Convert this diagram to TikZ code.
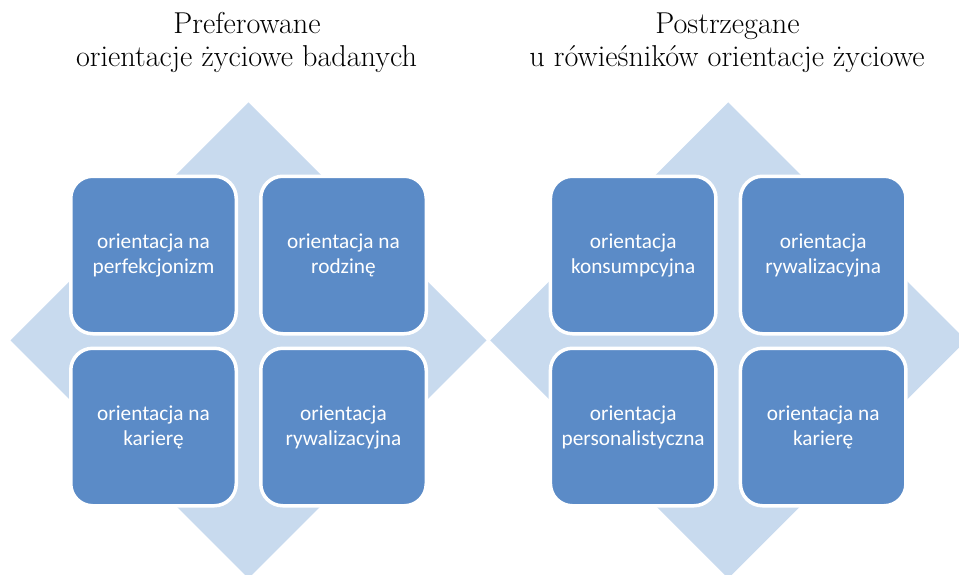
\documentclass[tikz,border=0pt]{standalone}
\usepackage{fontspec}
\newfontfamily\boxfont{Carlito}
\definecolor{boxblue}{RGB}{91,139,199}
\definecolor{diamblue}{RGB}{200,218,238}
\tikzset{
  cell/.style={fill=boxblue, draw=white, line width=3.5pt, rounded corners=22pt,
    minimum width=165.5pt, minimum height=157.5pt, inner sep=0pt, text=white,
    align=center, font=\boxfont\fontsize{21.3}{25}\selectfont},
  diam/.style={fill=diamblue},
  title/.style={anchor=base, inner sep=0pt, font=\fontsize{30.2}{33}\selectfont}
}
\begin{document}
\begin{tikzpicture}[x=1pt,y=-1pt]
\useasboundingbox (0,0) rectangle (959,574);
\clip (0,0) rectangle (959,574);
\coordinate (L) at (248.5,340.3);
\coordinate (R) at (728.2,340.3);
\fill[diam] (L) ++(0,-238) -- ++(238,238) -- ++(-238,238) -- ++(-238,-238) -- cycle;
\fill[diam] (R) ++(0,-238) -- ++(238,238) -- ++(-238,238) -- ++(-238,-238) -- cycle;

\node[title] (t1a) at (247,33.7) {Preferowane};
\node[title] (t1b) at (246.5,66.7) {orientacje życiowe badanych};
\node[title] (t2a) at (727.5,33.7) {Postrzegane};
\node[title] (t2b) at (727,66.7) {u rówieśników orientacje życiowe};

\node[cell] (a1) at (153.5,255) {orientacja na\\perfekcjonizm};
\node[cell] (a2) at (343.5,255) {orientacja na\\rodzinę};
\node[cell] (a3) at (153.5,427) {orientacja na\\karierę};
\node[cell] (a4) at (343.5,427) {orientacja\\rywalizacyjna};

\node[cell] (b1) at (633.2,255) {orientacja\\konsumpcyjna};
\node[cell] (b2) at (823.2,255) {orientacja\\rywalizacyjna};
\node[cell] (b3) at (633.2,427) {orientacja\\personalistyczna};
\node[cell] (b4) at (823.2,427) {orientacja na\\karierę};
\end{tikzpicture}
\end{document}
